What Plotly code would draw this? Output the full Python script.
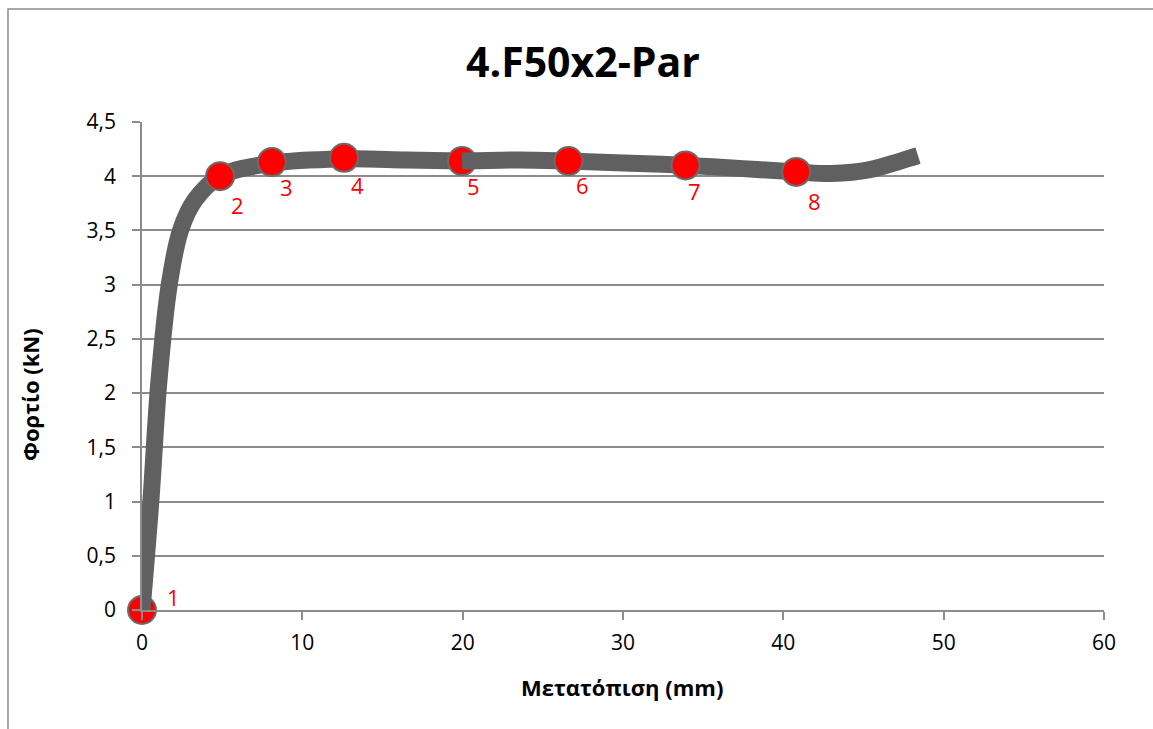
import plotly.graph_objects as go

# Load–displacement curve (smoothed) for specimen 4.F50x2-Par
line_x = [0, 0.55, 1.05, 1.7, 2.4, 3.3, 4.87, 8.1, 12.6, 16.5, 19.96,
          23.5, 26.6, 30.5, 33.9, 37.5, 40.8, 43.0, 45.4, 47.3, 48.4]
line_y = [0, 1.0, 2.1, 3.0, 3.5, 3.78, 4.0, 4.12, 4.16, 4.15, 4.14,
          4.15, 4.14, 4.12, 4.10, 4.07, 4.04, 4.025, 4.06, 4.14, 4.19]

# Numbered measurement points
point_x = [0, 4.87, 8.1, 12.6, 19.96, 26.6, 33.9, 40.8]
point_y = [0, 4.0, 4.13, 4.17, 4.14, 4.14, 4.10, 4.04]
point_labels = ["1", "2", "3", "4", "5", "6", "7", "8"]

x_ticks = [0, 10, 20, 30, 40, 50, 60]
y_ticks = [0, 0.5, 1, 1.5, 2, 2.5, 3, 3.5, 4, 4.5]
y_tick_text = ["0", "0,5", "1", "1,5", "2", "2,5", "3", "3,5", "4", "4,5"]

# label offsets in pixels relative to each point
label_dx = [31, 17, 15, 13, 11, 14, 9, 18]
label_dy = [13, -29, -25, -27, -25, -24, -26, -29]

FONT = "Open Sans, Carlito, Calibri, sans-serif"
GRID = "#8c8c8c"
LINE = "#606060"
RED = "#ff0000"

split = line_x.index(point_x[4])


def curve(xs, ys):
    return go.Scatter(x=xs, y=ys, mode="lines", cliponaxis=False,
                      line=dict(color=LINE, width=17, shape="spline", smoothing=1.0),
                      hoverinfo="skip", showlegend=False)


def points(idx):
    return go.Scatter(x=[point_x[i] for i in idx], y=[point_y[i] for i in idx],
                      mode="markers", cliponaxis=False,
                      marker=dict(size=28, color=RED, line=dict(color="#6b6b6b", width=2)),
                      showlegend=False)


fig = go.Figure()
fig.add_trace(points([0]))
fig.add_trace(curve(line_x[:split + 1], line_y[:split + 1]))
fig.add_trace(points([1, 2, 3, 4]))
fig.add_trace(curve(line_x[split:], line_y[split:]))
fig.add_trace(points([5, 6, 7]))

for px, py, t, dx, dy in zip(point_x, point_y, point_labels, label_dx, label_dy):
    fig.add_annotation(x=px, y=py, text=t, showarrow=False, xshift=dx, yshift=dy,
                       font=dict(family=FONT, size=22, color=RED))

fig.add_annotation(xref="paper", yref="paper", x=0.4584, y=1.125, text="<b>4.F50x2-Par</b>",
                   showarrow=False, xanchor="center", yanchor="middle",
                   font=dict(family=FONT, size=41, color="black"))
fig.add_annotation(xref="paper", yref="paper", x=0.499, y=-0.158, text="<b>Μετατόπιση (mm)</b>",
                   showarrow=False, xanchor="center", yanchor="middle",
                   font=dict(family=FONT, size=22, color="black"))
fig.add_annotation(xref="paper", yref="paper", x=-0.1164, y=0.4406, text="<b>Φορτίο (kN)</b>",
                   showarrow=False, xanchor="center", yanchor="middle", textangle=-90,
                   font=dict(family=FONT, size=22, color="black"))

# outer chart frame
fig.add_shape(type="rect", xref="paper", yref="paper", x0=-0.1393, y0=-0.27, x1=1.06, y1=1.2316,
              line=dict(color=GRID, width=1.5), layer="below")

fig.update_xaxes(range=[0, 60], tickvals=x_ticks, ticktext=[str(v) for v in x_ticks],
                 showgrid=False, zeroline=False, showline=True, linecolor=GRID, linewidth=1.5,
                 ticks="outside", ticklen=8, tickcolor=GRID, tickwidth=1.5,
                 ticklabelstandoff=5,
                 tickfont=dict(family=FONT, size=21, color="black"))
fig.update_yaxes(range=[0, 4.5], tickvals=y_ticks, ticktext=y_tick_text,
                 showgrid=True, gridcolor=GRID, gridwidth=1.5, zeroline=False,
                 showline=True, linecolor=GRID, linewidth=1.5,
                 ticks="outside", ticklen=8, tickcolor=GRID, tickwidth=1.5,
                 ticklabelstandoff=12,
                 tickfont=dict(family=FONT, size=21, color="black"))

fig.update_layout(width=1153, height=729, margin=dict(l=142, r=49, t=122, b=119),
                  paper_bgcolor="white", plot_bgcolor="white", showlegend=False)

fig.write_html("out.html")
